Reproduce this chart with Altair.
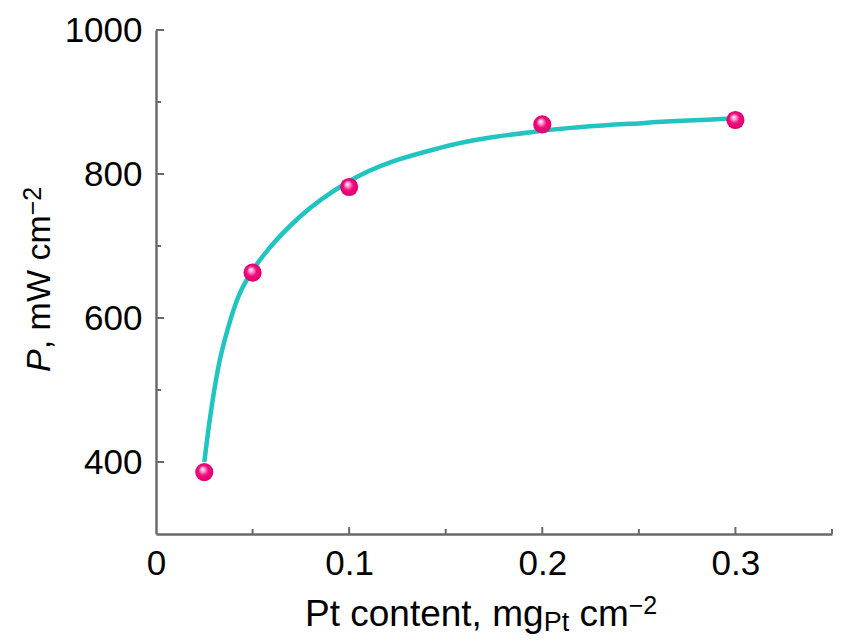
import altair as alt
import pandas as pd

# measured data points
pt_content = [0.025, 0.05, 0.1, 0.2, 0.3]
power = [386, 663, 782, 869, 875]

# fitted curve
fit_x = [0.025, 0.028, 0.0323, 0.0375, 0.0427, 0.05, 0.059, 0.0746, 0.1, 0.148, 0.2, 0.253, 0.3]
fit_y = [400, 462, 532, 588, 630, 666, 698, 741, 790, 837, 860, 871, 877]

x_labels = [0, 0.1, 0.2, 0.3]
x_major = [0.1, 0.2, 0.3]
x_minor = [0.05, 0.15, 0.25, 0.35]
y_labels = [400, 600, 800, 1000]
y_major = [400, 600, 800, 1000]
y_minor = [500, 700, 900]

W, H = 676, 504
AX = "#6a6a6a"
FONT = "Liberation Sans"

xs = alt.Scale(domain=[0, 0.35], nice=False, zero=False)
ys = alt.Scale(domain=[300, 1000], nice=False, zero=False)

pts = pd.DataFrame({"x": pt_content, "y": power})
fit = pd.DataFrame({"x": fit_x, "y": fit_y})

x_axis = alt.Axis(values=x_labels, format="~g", ticks=False, grid=False, title=None,
                  labelFont=FONT, labelFontSize=35, labelColor="black", labelPadding=12,
                  labelFlush=False, labelOverlap=False, domainColor=AX, domainWidth=2.5)
y_axis = alt.Axis(values=y_labels, format="d", ticks=False, grid=False, title=None,
                  labelFont=FONT, labelFontSize=35, labelColor="black", labelPadding=14,
                  labelFlush=False, labelOverlap=False, domainColor=AX, domainWidth=2.5)

X = alt.X("x:Q", scale=xs, axis=x_axis)
Y = alt.Y("y:Q", scale=ys, axis=y_axis)

curve = alt.Chart(fit).mark_line(interpolate="monotone", color="#22c4c2", strokeWidth=4.5).encode(
    x=X, y=Y)

grad = alt.RadialGradient(
    gradient="radial",
    stops=[
        alt.GradientStop(offset=0, color="#ffffff"),
        alt.GradientStop(offset=0.2, color="#ffa6d3"),
        alt.GradientStop(offset=0.5, color="#f20a7c"),
        alt.GradientStop(offset=1, color="#d8006c"),
    ],
    x1=0.4, y1=0.33, r1=0, x2=0.5, y2=0.5, r2=0.55,
)
dots = alt.Chart(pts).mark_circle(fill=grad, size=330, opacity=1).encode(x=X, y=Y)

def xticks(vals, length):
    return alt.Chart(pd.DataFrame({"x": vals})).mark_rule(color=AX, strokeWidth=2).encode(
        x=X, y=alt.value(H), y2=alt.value(H - length))

def yticks(vals, length):
    return alt.Chart(pd.DataFrame({"y": vals})).mark_rule(color=AX, strokeWidth=2).encode(
        y=Y, x=alt.value(0), x2=alt.value(length))

one = pd.DataFrame({"k": [0]})

def label(text, x, y, size, angle=0, italic=False):
    kw = dict(text=text, align="left", baseline="alphabetic", font=FONT, fontSize=size,
              color="black")
    if angle:
        kw["angle"] = angle
    if italic:
        kw["fontStyle"] = "italic"
    return alt.Chart(one).mark_text(**kw).encode(x=alt.value(x), y=alt.value(y))

# x title: Pt content, mg_Pt cm^-2
xt_main = 37
xt_sub = 27
xt_sup = 25
x0 = 149
xb = 596
x_sub = x0 + 6.45 * xt_main
x_cm = x_sub + 0.945 * xt_sub + 0.278 * xt_main
x_sp = x_cm + 1.333 * xt_main
x_title = [
    label("Pt content, mg", x0, xb, xt_main),
    label("Pt", x_sub, xb + 5, xt_sub),
    label("cm", x_cm, xb, xt_main),
    label("\u22122", x_sp, xb - 12, xt_sup),
]

# y title: P, mW cm^-2 (rotated)
yt = 34
y0 = 342
y_title = [
    label("P", -106, y0, yt, angle=270, italic=True),
    label(", mW cm", -106, y0 - 0.667 * yt, yt, angle=270),
    label("\u22122", -115, y0 - 0.667 * yt - 3.944 * yt, 25, angle=270),
]

chart = alt.layer(
    curve,
    xticks(x_major, 7), xticks(x_minor, 5),
    yticks(y_major, 8), yticks(y_minor, 5),
    dots,
    *x_title, *y_title,
).properties(
    width=W, height=H,
    autosize=alt.AutoSizeParams(type="none"),
    padding={"left": 148, "top": 22, "right": 8, "bottom": 102},
).configure_view(stroke=None)

chart.save("out.html", embed_options={"renderer": "svg", "actions": False})
